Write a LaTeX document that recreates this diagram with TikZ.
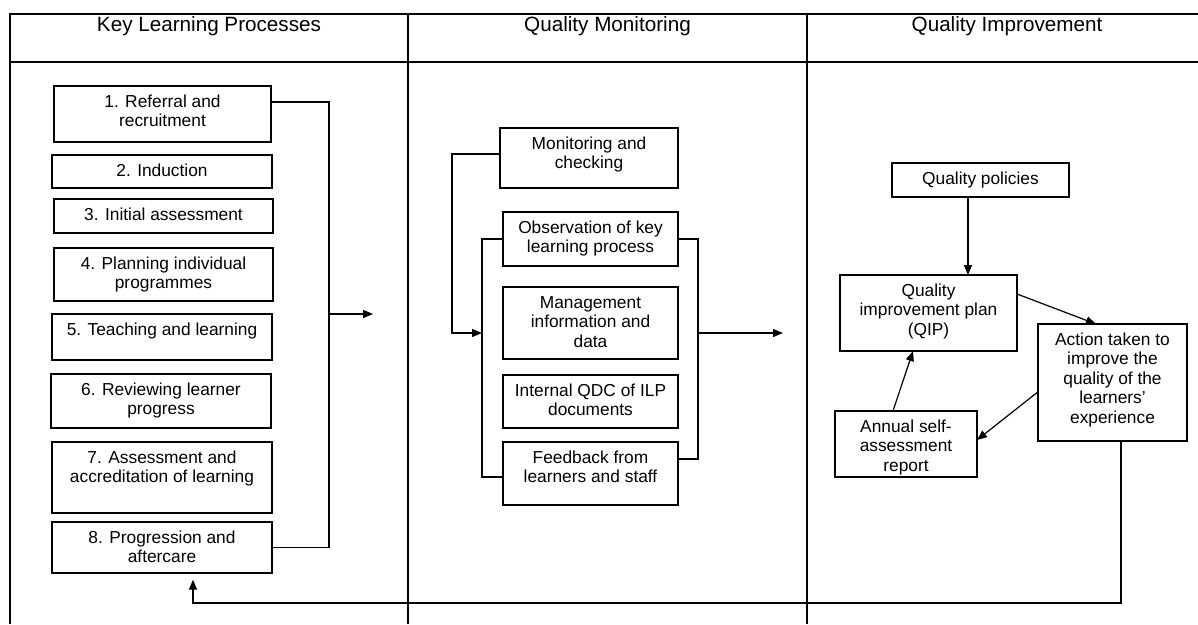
\documentclass[tikz,border=0pt]{standalone}
\usepackage{fontspec}
\setmainfont{Liberation Sans}
\usetikzlibrary{arrows.meta}

\newcommand{\boxfont}{\fontsize{13pt}{14.6pt}\selectfont}
\newcommand{\headfont}{\fontsize{15.5pt}{18pt}\selectfont}
% multi-line text hanging from the baseline of its first line
\newcommand{\lines}[1]{\begin{tabular}[t]{@{}c@{}}#1\end{tabular}}

\begin{document}
\begin{tikzpicture}[x=0.75pt, y=-0.75pt,
  grid/.style={line width=1pt, draw=black},
  box/.style 2 args={draw=black, line width=0.9pt, minimum width=#1*0.75pt,
    minimum height=#2*0.75pt, inner sep=0pt, outer sep=0pt},
  txt/.style={anchor=base, yshift=-16pt, font=\boxfont, inner sep=0pt},
  head/.style={anchor=base, font=\headfont, inner sep=0pt},
  conn/.style={line width=0.9pt, draw=black},
  arr/.style={conn, -{Triangle[length=7.5pt, width=6pt]}}]

\useasboundingbox (0,0) rectangle (1198,624);

% table frame
\draw[grid] (1198,14) -- (10,14) -- (10,624);
\draw[grid] (10,62) -- (1198,62);
\draw[grid] (408,14) -- (408,624);
\draw[grid] (807,14) -- (807,624);

% column headings
\node[head] (h1) at (209,32) {Key Learning Processes};
\node[head] (h2) at (607.5,32) {Quality Monitoring};
\node[head] (h3) at (1007,32) {Quality Improvement};

% key learning processes
\node[box={217}{56}, label={[txt]north:\lines{1. Referral and\\recruitment}}] (b1) at (162.5,114) {};
\node[box={220}{33}, label={[txt]north:\lines{2. Induction}}] (b2) at (162,171.5) {};
\node[box={219}{34}, label={[txt]north:\lines{3. Initial assessment}}] (b3) at (163.5,216) {};
\node[box={219}{53}, label={[txt]north:\lines{4. Planning individual\\programmes}}] (b4) at (163.5,274.5) {};
\node[box={220}{46}, label={[txt]north:\lines{5. Teaching and learning}}] (b5) at (162,337) {};
\node[box={220}{54}, label={[txt]north:\lines{6. Reviewing learner\\progress}}] (b6) at (161,401) {};
\node[box={220}{71}, label={[txt]north:\lines{7. Assessment and\\accreditation of learning}}] (b7) at (162,477.5) {};
\node[box={220}{51}, label={[txt]north:\lines{8. Progression and\\aftercare}}] (b8) at (162,547.5) {};

% quality monitoring
\node[box={178}{60}, label={[txt]north:\lines{Monitoring and\\checking}}] (mon) at (589,158) {};
\node[box={175}{54}, label={[txt]north:\lines{Observation of key\\learning process}}] (obs) at (590.5,239) {};
\node[box={175}{72}, label={[txt]north:\lines{Management\\information and\\data}}] (mis) at (590.5,323) {};
\node[box={175}{53}, label={[txt]north:\lines{Internal QDC of ILP\\documents}}] (qdc) at (590.5,401.5) {};
\node[box={175}{63}, label={[txt]north:\lines{Feedback from\\learners and staff}}] (fb) at (590.5,473.5) {};

% quality improvement
\node[box={177}{34}, label={[txt]north:\lines{Quality policies}}] (qp) at (980.5,180) {};
\node[box={177}{76}, label={[txt]north:\lines{Quality\\improvement plan\\(QIP)}}] (qip) at (928.5,313) {};
\node[box={149}{117}, label={[txt]north:\lines{Action taken to\\improve the\\quality of the\\learners’\\experience}}] (act) at (1112.5,382.5) {};
\node[box={142}{66}, label={[txt]north:\lines{Annual self-\\assessment\\report}}] (ann) at (906,444) {};

% junction points
\coordinate (lout) at (329,314);
\coordinate (loutend) at (373,314);
\coordinate (mjoin) at (452,333);
\coordinate (mbl) at (482,333);
\coordinate (mbr) at (698,333);
\coordinate (moutend) at (783,333);
\coordinate (ret) at (193,603);

% left bracket and output
\draw[conn] ([yshift=-12pt]b1.north east) -| ([xshift=42.75pt]b8.east) -- (b8.east);
\draw[arr] (lout) -- (loutend);

% monitoring brackets
\draw[arr] ([yshift=3pt]mon.west) -| (mjoin) -- (mbl);
\draw[conn] (obs.west) -| (mbl) |- ([yshift=-2.6pt]fb.west);
\draw[conn] (obs.east) -| (mbr) |- ([yshift=10.9pt]fb.east);
\draw[arr] (mbr) -- (moutend);

% improvement cycle
\draw[arr] ([xshift=-9.4pt]qp.south) -- ([xshift=-9.4pt]qp.south |- qip.north);
\draw[arr] ([yshift=14.25pt]qip.east) -- ([xshift=-12.4pt]act.north);
\draw[arr] ([yshift=-7pt]act.west) -- ([yshift=3pt]ann.east);
\draw[arr] ([xshift=-9.75pt]ann.north) -- ([xshift=-11.6pt]qip.south);

% return to the start of the learning processes
\draw[arr] ([xshift=6.4pt]act.south) |- (ret) -- ([xshift=23.25pt,yshift=-5pt]b8.south);

\end{tikzpicture}
\end{document}
